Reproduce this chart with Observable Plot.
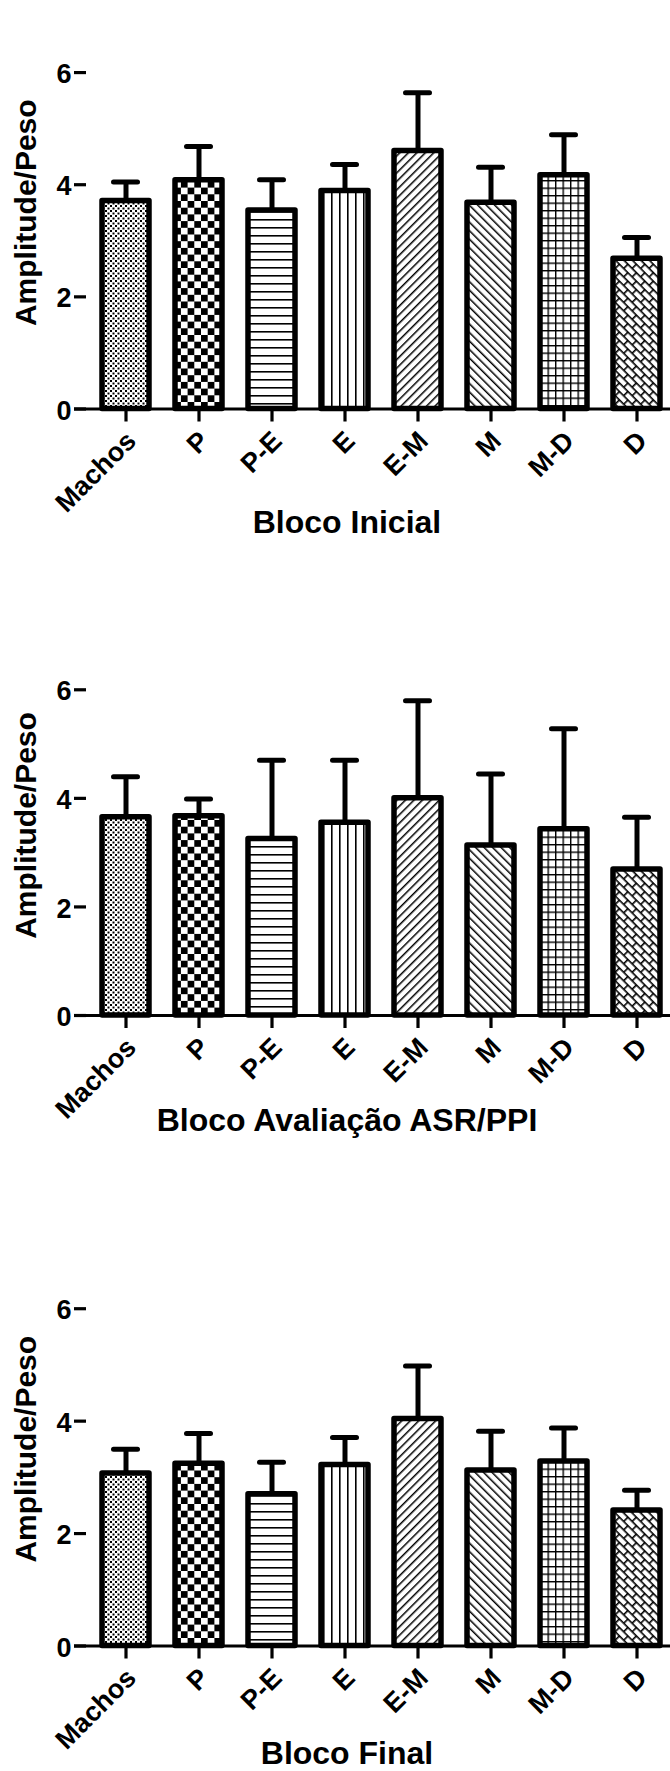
<!DOCTYPE html>
<html><head><meta charset="utf-8">
<script src="https://cdn.jsdelivr.net/npm/d3@7"></script>
<script src="https://cdn.jsdelivr.net/npm/@observablehq/plot@0.6"></script>
<style>
html,body{margin:0;padding:0;background:#fff;}
#wrap{position:relative;width:670px;height:1771px;overflow:hidden;font-family:"Liberation Sans",Arial,sans-serif;}
.panel{position:absolute;left:0;}
.xtitle{position:absolute;font-weight:bold;font-size:32px;line-height:20px;white-space:nowrap;transform:translateX(-50%);color:#000;}
</style></head><body>
<svg width="0" height="0" style="position:absolute;left:0;top:0">
<defs>
<pattern id="pat0" patternUnits="userSpaceOnUse" width="5" height="5">
 <rect width="5" height="5" fill="#fff"/>
 <rect width="2" height="2" fill="#000"/>
 <rect x="2.5" y="2.5" width="2" height="2" fill="#000"/>
</pattern>
<pattern id="pat1" patternUnits="userSpaceOnUse" width="13.4" height="13.4">
 <rect width="13.4" height="13.4" fill="#fff"/>
 <rect width="6.7" height="6.7" fill="#000"/>
 <rect x="6.7" y="6.7" width="6.7" height="6.7" fill="#000"/>
</pattern>
<pattern id="pat2" patternUnits="userSpaceOnUse" width="8" height="8">
 <rect width="8" height="8" fill="#fff"/>
 <rect y="3" width="8" height="1.6" fill="#000"/>
</pattern>
<pattern id="pat3" patternUnits="userSpaceOnUse" width="8" height="8">
 <rect width="8" height="8" fill="#fff"/>
 <rect x="3" width="1.6" height="8" fill="#000"/>
</pattern>
<pattern id="pat4" patternUnits="userSpaceOnUse" width="6" height="6" patternTransform="rotate(45)">
 <rect width="6" height="6" fill="#fff"/>
 <rect width="1.5" height="6" fill="#000"/>
</pattern>
<pattern id="pat5" patternUnits="userSpaceOnUse" width="6" height="6" patternTransform="rotate(-45)">
 <rect width="6" height="6" fill="#fff"/>
 <rect width="1.5" height="6" fill="#000"/>
</pattern>
<pattern id="pat6" patternUnits="userSpaceOnUse" width="7.5" height="7.5">
 <rect width="7.5" height="7.5" fill="#fff"/>
 <rect width="7.5" height="1.4" fill="#000"/>
 <rect width="1.4" height="7.5" fill="#000"/>
</pattern>
<pattern id="pat7" patternUnits="userSpaceOnUse" width="12" height="12" patternTransform="rotate(45)">
 <rect width="12" height="12" fill="#fff"/>
 <rect width="12" height="1.6" fill="#000"/>
 <rect y="6" width="12" height="1.6" fill="#000"/>
 <rect x="0" y="0" width="1.6" height="6" fill="#000"/>
 <rect x="6" y="6" width="1.6" height="6" fill="#000"/>
</pattern>
</defs></svg>
<div id="wrap"></div>
<script>
// ---- data ----
const categories = ["Machos", "P", "P-E", "E", "E-M", "M", "M-D", "D"];
const patternIds = ["pat0", "pat1", "pat2", "pat3", "pat4", "pat5", "pat6", "pat7"];
const yTicks = [0, 2, 4, 6];
const yLabel = "Amplitude/Peso";

const titleInicial = "Bloco Inicial";
const meanInicial = [3.71, 4.08, 3.54, 3.89, 4.60, 3.68, 4.17, 2.68];
const semInicial  = [0.34, 0.60, 0.55, 0.47, 1.04, 0.63, 0.72, 0.38];

const titleAvaliacao = "Bloco Avaliação ASR/PPI";
const meanAvaliacao = [3.65, 3.67, 3.25, 3.55, 4.00, 3.13, 3.43, 2.69];
const semAvaliacao  = [0.75, 0.32, 1.45, 1.15, 1.80, 1.32, 1.85, 0.96];

const titleFinal = "Bloco Final";
const meanFinal = [3.07, 3.24, 2.70, 3.22, 4.04, 3.12, 3.28, 2.41];
const semFinal  = [0.43, 0.54, 0.57, 0.49, 0.94, 0.70, 0.60, 0.36];

// ---- layout (page pixels) ----
const panels = [
  {title: titleInicial,   means: meanInicial,   sems: semInicial,   top: 0,      yTop: 16,     yZero: 408.5, titleBase: 532.7},
  {title: titleAvaliacao, means: meanAvaliacao, sems: semAvaliacao, top: 619,    yTop: 635,    yZero: 1015,  titleBase: 1131},
  {title: titleFinal,     means: meanFinal,     sems: semFinal,     top: 1235.5, yTop: 1251.5, yZero: 1645,  titleBase: 1763.8}
];

const wrap = document.getElementById("wrap");
const H = 530;
const font = "'Liberation Sans', Arial, sans-serif";
const fmt = d3.format("d");

panels.forEach(p => {
  const data = categories.map((c, i) => ({
    cat: c, mean: p.means[i], upper: p.means[i] + p.sems[i], pat: `url(#${patternIds[i]})`
  }));
  const chart = Plot.plot({
    width: 670,
    height: H,
    marginTop: p.yTop - p.top,
    marginBottom: H - (p.yZero - p.top),
    marginLeft: 86,
    marginRight: 0,
    style: {fontFamily: font, fontWeight: "bold", fontSize: "26px", color: "#000", background: "transparent", overflow: "visible"},
    x: {domain: categories, range: [86, 677], paddingInner: 0.35, paddingOuter: 0.175, align: 0.5},
    y: {domain: [0, 7]},
    color: {type: "identity"},
    marks: [
      Plot.barY(data, {x: "cat", y: "mean", fill: "pat", stroke: "#000", strokeWidth: 5.5, strokeLinejoin: "round"}),
      Plot.ruleX(data, {x: "cat", y1: "mean", y2: "upper", stroke: "#000", strokeWidth: 5}),
      Plot.tickY(data, {x: "cat", y: "upper", stroke: "#000", strokeWidth: 5, strokeLinecap: "round", insetLeft: 11.5, insetRight: 11.5}),
      Plot.ruleY([0], {stroke: "#000", strokeWidth: 3.2, insetLeft: -12}),
      Plot.axisY({ticks: yTicks, tickFormat: () => "", tickSize: 12, strokeWidth: 3.2, line: true, label: null}),
      Plot.axisX({tickSize: 13, strokeWidth: 3.2, tickFormat: () => "", label: null}),
      Plot.text(yTicks, {y: d => d, text: d => fmt(d), frameAnchor: "left", textAnchor: "end", dx: -15, dy: 2, fontSize: 27, fontWeight: "bold", fill: "#000"}),
      Plot.text(categories, {x: d => d, text: d => d, frameAnchor: "bottom", textAnchor: "end", lineAnchor: "top", rotate: -45, dx: -2, dy: 20, fontSize: 27, fontWeight: "bold", fill: "#000"}),
      Plot.text([yLabel], {frameAnchor: "left", textAnchor: "middle", rotate: -90, dx: -60, fontSize: 30, fontWeight: "bold", fill: "#000"})
    ]
  });
  chart.classList.add("panel");
  chart.style.top = p.top + "px";
  wrap.appendChild(chart);

  const t = document.createElement("div");
  t.className = "xtitle";
  t.textContent = p.title;
  t.style.left = "347px";
  t.style.top = (p.titleBase - 21.09) + "px";
  wrap.appendChild(t);
});
</script>
</body></html>
